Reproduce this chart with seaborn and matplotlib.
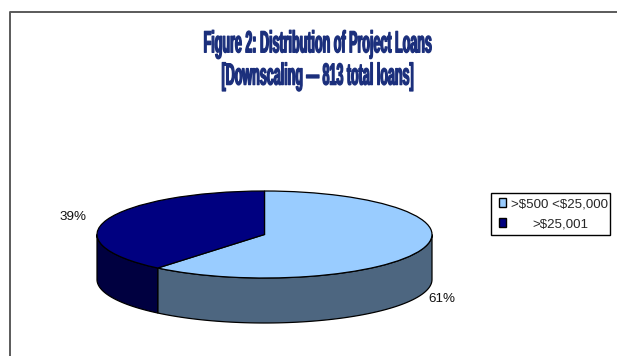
import numpy as np
import matplotlib
matplotlib.use("Agg")
import matplotlib.pyplot as plt
from matplotlib.patches import Polygon, Patch
from matplotlib.patheffects import AbstractPathEffect
from matplotlib.transforms import Affine2D
import seaborn as sns

categories = [">$500 <$25,000", ">$25,001"]
values = [61, 39]
pct_labels = ["61%", "39%"]
title_lines = "Figure 2: Distribution of Project Loans\n[Downscaling \u2014 813 total loans]"

top_colors = sns.color_palette(["#99CCFF", "#000080"])
side_colors = sns.color_palette(["#4D6680", "#000040"])

sns.set_theme(style="white")
plt.rcParams["font.family"] = ["Liberation Sans", "DejaVu Sans"]

W, H = 617, 356
fig = plt.figure(figsize=(W / 100, H / 100), dpi=100, facecolor="white")
ax = fig.add_axes([0, 0, 1, 1])

cx, cy, rx, ry, depth = 264.5, 234.5, 167.5, 43.5, 45.0
wall = depth / ry


class Condense(AbstractPathEffect):
    """Squeeze the text horizontally about a fixed x, and thicken its strokes."""

    def __init__(self, x0, sx, lw):
        super().__init__()
        self.x0, self.sx, self.lw = x0, sx, lw

    def draw_path(self, renderer, gc, tpath, affine, rgbFace):
        aff = affine + Affine2D().translate(-self.x0, 0).scale(self.sx, 1).translate(self.x0, 0)
        gc0 = renderer.new_gc()
        gc0.copy_properties(gc)
        gc0.set_linewidth(self.lw)
        gc0.set_foreground(rgbFace)
        renderer.draw_path(gc0, tpath, aff, rgbFace)
        gc0.restore()


# Side wall: each slice's visible lower part, in clockwise angle from 12 o'clock
cum = np.cumsum([0] + values) / sum(values) * 360
for i in range(len(values)):
    a0, a1 = cum[i], cum[i + 1]
    lo, hi = max(a0, 90), min(a1, 270)
    if hi <= lo:
        continue
    t = np.radians(np.linspace(lo, hi, 80))
    x, y = np.sin(t), np.cos(t)
    pts = np.r_[np.c_[x, y], np.c_[x[::-1], y[::-1] - wall]]
    ax.add_patch(Polygon(pts, closed=True, facecolor=side_colors[i],
                         edgecolor="black", linewidth=0.9, zorder=1))

wedges, _ = ax.pie(values, colors=top_colors, startangle=90, counterclock=False,
                   radius=1, wedgeprops=dict(edgecolor="black", linewidth=0.9, zorder=2))
ax.set_frame_on(False)
ax.set_aspect("auto")
ax.set_xlim((0 - cx) / rx, (W - cx) / rx)
ax.set_ylim((cy - H) / ry, cy / ry)

# Outer page frame, open at right and bottom
fig.add_artist(plt.Line2D([10.5 / W, 10.5 / W, 1], [0, 1 - 11.5 / H, 1 - 11.5 / H],
                          color="#5a5a5a", linewidth=1.4, transform=fig.transFigure))

fig.text(317.5 / W, 1 - 60.5 / H, title_lines, ha="center", va="center",
         fontweight="bold", fontsize=22, color="#1B2F7C", linespacing=1.1,
         path_effects=[Condense(317.5, 0.41, 0.9)])

fig.text(442 / W, 1 - 299 / H, pct_labels[0], ha="center", va="center", fontsize=9.6, color="#111111")
fig.text(73 / W, 1 - 217 / H, pct_labels[1], ha="center", va="center", fontsize=9.6, color="#111111")

handles = [Patch(facecolor=c, edgecolor="black", linewidth=1.0) for c in top_colors]
leg = fig.legend(handles, categories, loc="upper left",
                 bbox_to_anchor=(491 / W, 1 - 193 / H), bbox_transform=fig.transFigure,
                 fontsize=9.6, frameon=True, fancybox=False, edgecolor="black",
                 framealpha=1, borderpad=0.38, handlelength=0.525, handleheight=0.6,
                 handletextpad=0.375, labelspacing=0.62, borderaxespad=0)
leg.get_frame().set_linewidth(1.0)
for txt, dx in zip(leg.get_texts(), [3, 24]):
    txt.set_parse_math(False)
    txt.set_x(dx)
for h in leg.legend_handles:
    h.set_x(h.get_x() + 2.2)

fig.savefig("out.png", dpi=100, facecolor="white")
